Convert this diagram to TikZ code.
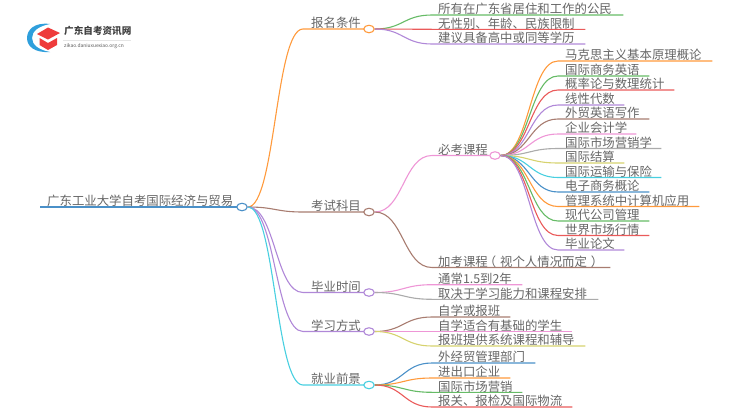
\documentclass[tikz,border=0pt]{standalone}
\usepackage{fontspec}
\setmainfont{Noto Sans CJK SC}
\usetikzlibrary{calc,shapes.geometric}
\definecolor{cOrange}{HTML}{FF9A3C}
\definecolor{cGreen}{HTML}{66BB66}
\definecolor{cRed}{HTML}{EA5A5A}
\definecolor{cPurple}{HTML}{B088D8}
\definecolor{cBrown}{HTML}{A87C70}
\definecolor{cPink}{HTML}{EE96D6}
\definecolor{cGray}{HTML}{ABABAB}
\definecolor{cOlive}{HTML}{D6D26E}
\definecolor{cCyan}{HTML}{48CFE0}
\definecolor{cBlue}{HTML}{4A90C8}
\definecolor{cText}{HTML}{666666}
\definecolor{cLogoBlue}{HTML}{2F9FDC}
\definecolor{cLogoRed}{HTML}{EE3B3B}
\tikzset{
  lbl/.style={anchor=south west,inner ysep=1pt,inner xsep=0pt,font=\fontsize{12.4}{12.4}\selectfont,text=cText},
  hub/.style={ellipse,draw=#1,fill=white,line width=1.1pt,minimum width=10.5pt,minimum height=7.5pt,inner sep=0pt},
  conn/.style={line width=1.1pt,#1}
}
% name, x-start, x-end, y, pad, text
\newcommand{\lab}[6]{\pgfmathsetmacro{\tw}{#3-#2-#5}%
  \node[lbl] (#1) at (#2,#4) {\rule{0pt}{9pt}\hspace*{#5pt}\smash{\makebox[\tw pt][l]{#6}}};}
% parent, child, colour
\newcommand{\link}[3]{\draw[conn=#3] let \p1=(#1.east),\p2=(#2.south west),\n1={0.5*\x1+0.5*\x2} in
  (#1.east) .. controls (\n1,\y1) and (\n1,\y2) .. (#2.south west) -- (#2.south east);}
\begin{document}
\begin{tikzpicture}[x=1pt,y=-1pt]
\useasboundingbox (0,0) rectangle (750,410);
% logo
\fill[cLogoBlue] (50,24) .. controls (34,22) and (27,30) .. (27,38) .. controls (27,46) and (34,53) .. (50,52) .. controls (39,50) and (32,45) .. (32,38) .. controls (32,31) and (39,26) .. cycle;
\fill[cLogoRed] (37,34) -- (48,27.5) -- (60,33) -- (48,39.5) -- cycle;
\fill[cLogoRed] (39.5,38) -- (48,43) -- (57,38) -- (57,45) -- (48,50) -- (39.5,45) -- cycle;
\node[anchor=west,inner sep=0pt,font=\bfseries\fontsize{9.6}{9.6}\selectfont,text=black!75] (logo) at (64,31) {广东自考资讯网};
\draw[black!10,line width=.5pt] (63,40.5) -- (131,40.5);
\node[anchor=west,inner sep=0pt,font=\fontsize{4.9}{4.9}\selectfont,text=black!65] (logosub) at (64,46.5) {zikao.daniuxuexiao.org.cn};
% labels: root
\lab{root}{40}{237}{207}{7}{广东工业大学自考国际经济与贸易}
\draw[conn=cBlue] (root.south west) -- (root.south east) -- (242,207);
\node[hub=cBlue] (rootH) at (242,207) {};
% level 1
\lab{a}{303}{364}{29}{8}{报名条件}
\lab{b}{303}{364}{212}{8}{考试科目}
\lab{c}{303}{364}{292.5}{8}{毕业时间}
\lab{d}{303}{364}{331.5}{8}{学习方式}
\lab{e}{303}{364}{385}{8}{就业前景}
\foreach \nm/\cl in {a/cOrange,b/cBrown,c/cPurple,d/cPurple,e/cCyan}{\link{rootH}{\nm}{\cl}}
\node[hub=cOrange] (aH) at (369,29) {};
\node[hub=cBrown] (bH) at (369,212) {};
\node[hub=cPurple] (cH) at (369,292.5) {};
\node[hub=cPurple] (dH) at (369,331.5) {};
\node[hub=cCyan] (eH) at (369,385) {};
% under a
\lab{a1}{432}{623}{15}{6}{所有在广东省居住和工作的公民}
\lab{a2}{432}{585}{29.3}{6}{无性别、年龄、民族限制}
\lab{a3}{432}{585}{44}{6}{建议具备高中或同等学历}
\link{aH}{a1}{cGreen}\link{aH}{a2}{cRed}\link{aH}{a3}{cPurple}
% under b
\lab{b1}{432}{489}{155.5}{6}{必考课程}
\lab{b2}{432}{610}{267.5}{6}{加考课程\hspace{-4pt}（\hspace{4pt}视个人情况而定\hspace{4pt}）}
\link{bH}{b1}{cPink}\link{bH}{b2}{cBrown}
\node[hub=cPink] (b1H) at (495,155.5) {};
% required courses
\lab{r1}{558}{712}{61}{7}{马克思主义基本原理概论}
\lab{r2}{558}{649}{76}{7}{国际商务英语}
\lab{r3}{558}{674}{90}{7}{概率论与数理统计}
\lab{r4}{558}{624}{105}{7}{线性代数}
\lab{r5}{558}{649}{119}{7}{外贸英语写作}
\lab{r6}{558}{636}{134}{7}{企业会计学}
\lab{r7}{558}{661}{148.5}{7}{国际市场营销学}
\lab{r8}{558}{624}{163}{7}{国际结算}
\lab{r9}{558}{661}{177.5}{7}{国际运输与保险}
\lab{r10}{558}{649}{192}{7}{电子商务概论}
\lab{r11}{558}{699}{206.5}{7}{管理系统中计算机应用}
\lab{r12}{558}{649}{221}{7}{现代公司管理}
\lab{r13}{558}{649}{235.5}{7}{世界市场行情}
\lab{r14}{558}{624}{250}{7}{毕业论文}
\foreach \nm/\cl in {r1/cOrange,r2/cGreen,r3/cRed,r4/cPurple,r5/cBrown,r6/cPink,r7/cGray,r8/cOlive,r9/cCyan,r10/cBlue,r11/cOrange,r12/cGreen,r13/cRed,r14/cPurple}{\link{b1H}{\nm}{\cl}}
% under c
\lab{c1}{432}{522}{284.7}{6}{通常1.5到2年}
\lab{c2}{432}{598}{299.3}{6}{取决于学习能力和课程安排}
\link{cH}{c1}{cPink}\link{cH}{c2}{cGray}
% under d
\lab{d1}{432}{510}{317}{6}{自学或报班}
\lab{d2}{432}{572}{331.5}{6}{自学适合有基础的学生}
\lab{d3}{432}{585}{346}{6}{报班提供系统课程和辅导}
\link{dH}{d1}{cBrown}\link{dH}{d2}{cPink}\link{dH}{d3}{cOlive}
% under e
\lab{e1}{432}{535}{363}{6}{外经贸管理部门}
\lab{e2}{432}{510}{378}{6}{进出口企业}
\lab{e3}{432}{522}{392.3}{6}{国际市场营销}
\lab{e4}{432}{572}{407}{6}{报关、报检及国际物流}
\link{eH}{e1}{cBlue}\link{eH}{e2}{cOrange}\link{eH}{e3}{cGreen}\link{eH}{e4}{cRed}
\end{tikzpicture}
\end{document}
